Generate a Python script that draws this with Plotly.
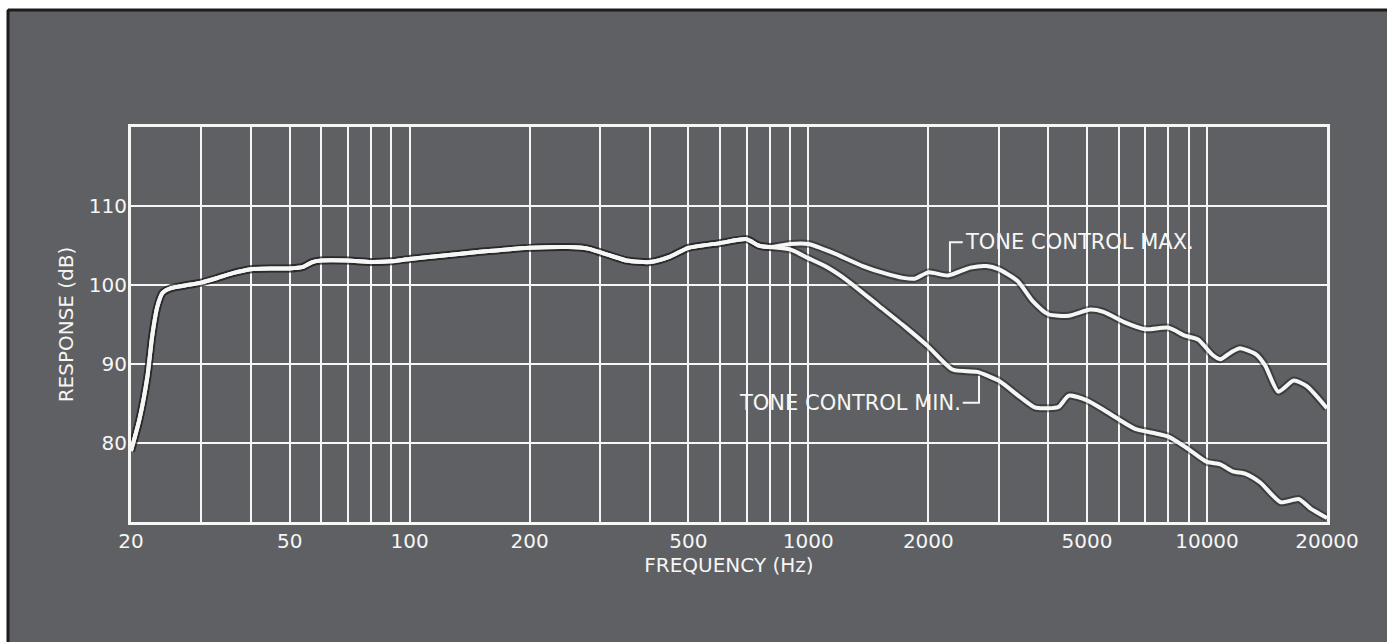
import math
import plotly.graph_objects as go

# ---------------- data ----------------
common_freq = [20, 21, 22, 22.6, 23.3, 24, 25.2, 27, 30, 33, 36, 40, 45, 50, 54, 57, 60, 70, 80,
               90, 100, 120, 150, 200, 250, 280, 320, 350, 400, 450, 500, 600, 700, 750, 800]
common_db = [79, 83, 88.5, 93.5, 97.3, 99.0, 99.6, 99.9, 100.3, 100.9, 101.5, 102.0, 102.1, 102.1,
             102.3, 102.9, 103.1, 103.1, 102.9, 103.0, 103.3, 103.7, 104.2, 104.7, 104.8, 104.6,
             103.7, 103.1, 102.9, 103.6, 104.7, 105.3, 105.8, 105.0, 104.8]

max_freq = [900, 1000, 1150, 1370, 1550, 1730, 1850, 2000, 2240, 2550, 2800, 3000, 3350, 3650,
            4000, 4500, 5100, 5500, 6200, 7000, 8000, 8800, 9500, 10300, 10800, 11500, 12100,
            13300, 14000, 15100, 16500, 17800, 20000]
max_db = [105.2, 105.2, 104.1, 102.4, 101.5, 100.9, 100.8, 101.6, 101.2, 102.2, 102.4, 102.0,
          100.5, 98.0, 96.3, 96.1, 96.9, 96.6, 95.3, 94.4, 94.6, 93.6, 93.1, 91.2, 90.6, 91.5,
          92.0, 91.2, 89.8, 86.5, 87.9, 87.2, 84.4]

min_freq = [900, 1000, 1110, 1250, 1500, 1750, 2000, 2300, 2650, 3000, 3400, 3700, 4000, 4250,
            4500, 5000, 5500, 6000, 6600, 7300, 8000, 9000, 10000, 10800, 11600, 12500, 13600,
            15300, 17000, 18200, 20000]
min_db = [104.5, 103.4, 102.3, 100.6, 97.4, 94.7, 92.2, 89.3, 89.0, 87.9, 85.8, 84.5, 84.4, 84.6,
          86.0, 85.4, 84.2, 83.0, 81.8, 81.3, 80.8, 79.2, 77.6, 77.3, 76.4, 76.1, 75.0, 72.5,
          72.9, 71.7, 70.5]

grid_freqs = [20, 30, 40, 50, 60, 70, 80, 90, 100, 200, 300, 400, 500, 600, 700, 800, 900,
              1000, 2000, 3000, 4000, 5000, 6000, 7000, 8000, 9000, 10000, 20000]
labeled_freqs = [20, 50, 100, 200, 500, 1000, 2000, 5000, 10000, 20000]
y_ticks = [80, 90, 100, 110]

label_max = "TONE CONTROL MAX."
label_min = "TONE CONTROL MIN."
max_leader_freq = [2440, 2266, 2266]
max_leader_db = [105.4, 105.4, 101.6]
min_leader_freq = [2440, 2680, 2680]
min_leader_db = [85.1, 85.1, 88.5]

# ---------------- figure ----------------
BG = "#5e6064"
WHITE = "#f6f6f4"
FONT = "DejaVu Sans"

fig = go.Figure()

curves = [(common_freq + max_freq, common_db + max_db),
          (common_freq + min_freq, common_db + min_db)]

for fx, fy in curves:
    fig.add_trace(go.Scatter(x=fx, y=fy, mode="lines",
                             line=dict(color="rgba(20,20,22,0.45)", width=8, shape="spline", smoothing=0.6),
                             hoverinfo="skip", showlegend=False))
for fx, fy in curves:
    fig.add_trace(go.Scatter(x=fx, y=fy, mode="lines",
                             line=dict(color=WHITE, width=4, shape="spline", smoothing=0.6),
                             showlegend=False))

for lx, ly in [(max_leader_freq, max_leader_db), (min_leader_freq, min_leader_db)]:
    fig.add_trace(go.Scatter(x=lx, y=ly, mode="lines", line=dict(color=WHITE, width=2),
                             hoverinfo="skip", showlegend=False))

fig.add_annotation(x=math.log10(max_leader_freq[0]), y=max_leader_db[0], text=label_max,
                   showarrow=False, xanchor="left", yanchor="middle", xshift=0,
                   font=dict(family=FONT, size=21, color=WHITE))
fig.add_annotation(x=math.log10(min_leader_freq[0]), y=min_leader_db[0], text=label_min,
                   showarrow=False, xanchor="right", yanchor="middle", xshift=0,
                   font=dict(family=FONT, size=21, color=WHITE))

ticktext = [str(f) if f in labeled_freqs else "" for f in grid_freqs]

fig.update_xaxes(type="log", range=[math.log10(20), math.log10(20000)],
                 tickvals=grid_freqs, ticktext=ticktext,
                 showgrid=True, gridcolor=WHITE, gridwidth=2,
                 showline=True, linecolor=WHITE, linewidth=3, mirror=True,
                 ticks="", zeroline=False, ticklabelstandoff=-1,
                 tickfont=dict(family=FONT, size=20, color=WHITE),
                 title=dict(text="FREQUENCY (Hz)", standoff=4,
                            font=dict(family=FONT, size=20, color=WHITE)))
fig.update_yaxes(range=[70, 120], tickvals=y_ticks,
                 showgrid=True, gridcolor=WHITE, gridwidth=2,
                 showline=True, linecolor=WHITE, linewidth=3, mirror=True,
                 ticks="", zeroline=False, ticklabelstandoff=-3,
                 tickfont=dict(family=FONT, size=20, color=WHITE),
                 title=dict(text="RESPONSE (dB)", standoff=10,
                            font=dict(family=FONT, size=20, color=WHITE)))

W, H = 1387, 642
ml, mr, mt, mb = 131, 60, 127, 120
pw, ph = W - ml - mr, H - mt - mb

def px_to_paper_x(p):
    return (p - ml) / pw

def py_to_paper_y(p):
    return (H - mb - p) / ph

# photo edge: white strip + dark line at top and left
fig.add_shape(type="rect", xref="paper", yref="paper",
              x0=px_to_paper_x(0), x1=px_to_paper_x(W), y0=py_to_paper_y(9), y1=py_to_paper_y(0),
              fillcolor="white", line=dict(width=0), layer="above")
fig.add_shape(type="rect", xref="paper", yref="paper",
              x0=px_to_paper_x(0), x1=px_to_paper_x(7), y0=py_to_paper_y(H), y1=py_to_paper_y(0),
              fillcolor="white", line=dict(width=0), layer="above")
fig.add_shape(type="line", xref="paper", yref="paper",
              x0=px_to_paper_x(8), x1=px_to_paper_x(W), y0=py_to_paper_y(10), y1=py_to_paper_y(10),
              line=dict(color="#1c1c1c", width=3), layer="above")
fig.add_shape(type="line", xref="paper", yref="paper",
              x0=px_to_paper_x(8), x1=px_to_paper_x(8), y0=py_to_paper_y(H), y1=py_to_paper_y(10),
              line=dict(color="#1c1c1c", width=3), layer="above")

fig.update_layout(width=W, height=H, margin=dict(l=ml, r=mr, t=mt, b=mb),
                  paper_bgcolor=BG, plot_bgcolor=BG, showlegend=False)

fig.write_html("out.html", config={"displayModeBar": False},
               post_script="document.body.style.margin='0px';document.body.style.overflow='hidden';")
